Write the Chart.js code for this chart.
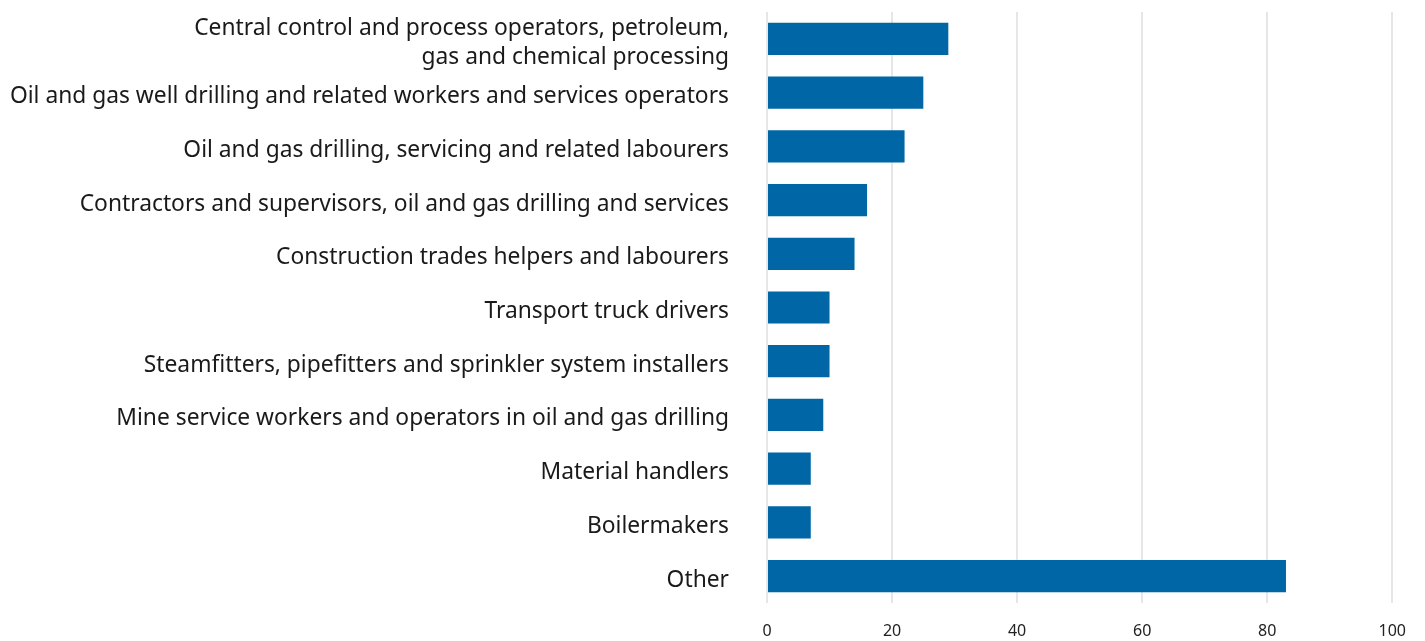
<!DOCTYPE html>
<html>
<head>
<meta charset="utf-8">
<script src="https://cdn.jsdelivr.net/npm/chart.js@4/dist/chart.umd.min.js"></script>
<style>
  html, body { margin: 0; padding: 0; background: #fff; }
  #wrap { width: 1425px; height: 641px; position: relative; }
</style>
</head>
<body>
<div id="wrap"><canvas id="mychart"></canvas></div>
<script>
const occupations = [
    ["Central control and process operators, petroleum,", "gas and chemical processing"],
    "Oil and gas well drilling and related workers and services operators",
    "Oil and gas drilling, servicing and related labourers",
    "Contractors and supervisors, oil and gas drilling and services",
    "Construction trades helpers and labourers",
    "Transport truck drivers",
    "Steamfitters, pipefitters and sprinkler system installers",
    "Mine service workers and operators in oil and gas drilling",
    "Material handlers",
    "Boilermakers",
    "Other"
];
const workers = [29, 25, 22, 16, 14, 10, 10, 9, 7, 7, 83];
const xTicks = [0, 20, 40, 60, 80, 100];

const labelFont = "'Noto Sans', sans-serif";

let ctx = document.getElementById("mychart").getContext('2d');

let barChart = new Chart(ctx, {
    type: 'bar',
    data: {
        labels: occupations,
        datasets: [{
            data: workers,
            backgroundColor: '#0066a6',
            barPercentage: 0.6,
            categoryPercentage: 1
        }]
    },
    options: {
        indexAxis: 'y',
        responsive: true,
        maintainAspectRatio: false,
        animation: false,
        layout: { padding: { top: 12, right: 28, bottom: 1, left: 0 } },
        plugins: {
            legend: { display: false },
            tooltip: { enabled: false }
        },
        scales: {
            x: {
                min: 0,
                max: 100,
                afterBuildTicks: (scale) => {
                    scale.ticks = xTicks.map(v => ({ value: v }));
                },
                afterFit: (scale) => { scale.height = 37; },
                grid: { color: '#e6e6e6', lineWidth: 2, drawTicks: false },
                border: { display: false },
                ticks: {
                    padding: 19,
                    maxRotation: 0,
                    color: '#222',
                    font: { family: labelFont, size: 16 }
                }
            },
            y: {
                grid: { display: false, drawTicks: false },
                border: { display: false },
                afterFit: (scale) => {
                    scale.width = 767;
                    scale.paddingTop = 0;
                    scale.paddingBottom = 0;
                },
                ticks: {
                    autoSkip: false,
                    padding: 38,
                    labelOffset: 4,
                    color: '#1a1a1a',
                    font: { family: labelFont, size: 22.8, lineHeight: 1.27 }
                }
            }
        }
    }
});
</script>
</body>
</html>
